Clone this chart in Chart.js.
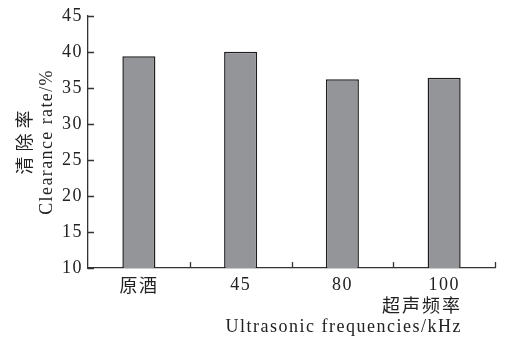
<!DOCTYPE html>
<html>
<head>
<meta charset="utf-8">
<script src="https://cdn.jsdelivr.net/npm/chart.js@4"></script>
<style>
  html, body { margin: 0; padding: 0; background: #fff; }
  #wrap { width: 505px; height: 341px; position: relative; }
</style>
</head>
<body>
<div id="wrap"><canvas id="c"></canvas></div>
<script>
// Clearance rate at each ultrasonic frequency
const categories = ['原酒', '45', '80', '100'];
const clearanceRate = [39.4, 40.0, 36.2, 36.4];
const yTicks = [10, 15, 20, 25, 30, 35, 40, 45];

const serif = '"Liberation Serif", "DejaVu Serif", serif';
const cjk = '"Noto Sans CJK SC", sans-serif';
const ink = '#222';

// Slightly tracked lettering for all text on the canvas
const tracking = {
  id: 'tracking',
  beforeDraw(chart) { chart.ctx.letterSpacing = '1.5px'; }
};

// Inward tick marks plus the two-language axis titles
const axisDecor = {
  id: 'axisDecor',
  afterDraw(chart) {
    const { ctx, chartArea: a, scales: { x, y } } = chart;
    ctx.save();
    ctx.strokeStyle = '#333';
    ctx.lineWidth = 1.3;
    ctx.beginPath();
    yTicks.forEach(v => {
      const py = Math.round(y.getPixelForValue(v)) + 0.5;
      ctx.moveTo(a.left, py);
      ctx.lineTo(a.left + 6, py);
    });
    const half = (x.getPixelForValue(1) - x.getPixelForValue(0)) / 2;
    categories.forEach((c, i) => {
      const px = Math.round(x.getPixelForValue(i) + half) + 0.5;
      ctx.moveTo(px, a.bottom);
      ctx.lineTo(px, a.bottom - 6);
    });
    ctx.stroke();

    ctx.fillStyle = ink;
    ctx.textBaseline = 'middle';
    // x-axis title, two lines
    ctx.textAlign = 'right';
    ctx.letterSpacing = '2px';
    ctx.font = '18px ' + cjk;
    ctx.fillText('超声频率', a.right - 33, a.bottom + 37);
    ctx.letterSpacing = '1.5px';
    ctx.font = '18px ' + serif;
    ctx.fillText('Ultrasonic frequencies/kHz', a.right - 33, a.bottom + 59);

    // y-axis title, two rotated columns
    const cy = (a.top + a.bottom) / 2;
    ctx.textAlign = 'center';
    ctx.save();
    ctx.translate(24, cy);
    ctx.rotate(-Math.PI / 2);
    ctx.letterSpacing = '5px';
    ctx.font = '18px ' + cjk;
    ctx.fillText('清除率', 2, 0);
    ctx.restore();
    ctx.save();
    ctx.translate(47, cy);
    ctx.rotate(-Math.PI / 2);
    ctx.letterSpacing = '1.4px';
    ctx.font = '18px ' + serif;
    ctx.fillText('Clearance rate/%', 0, 0);
    ctx.restore();
    ctx.restore();
  }
};

new Chart(document.getElementById('c'), {
  type: 'bar',
  data: {
    labels: categories,
    datasets: [{
      data: clearanceRate,
      backgroundColor: '#939598',
      borderColor: '#1e1e1e',
      borderWidth: 1.5,
      categoryPercentage: 1,
      barPercentage: 0.325
    }]
  },
  options: {
    responsive: true,
    maintainAspectRatio: false,
    animation: false,
    devicePixelRatio: 1,
    layout: { padding: { top: 13, right: 10, left: 0, bottom: 0 } },
    plugins: { legend: { display: false }, tooltip: { enabled: false } },
    scales: {
      x: {
        offset: true,
        grid: { display: false, drawTicks: false },
        border: { display: true, color: '#333', width: 1.3 },
        ticks: {
          color: ink,
          padding: 6,
          maxRotation: 0,
          font: ctx => ({ family: ctx.index === 0 ? cjk : serif, size: 18 })
        },
        afterFit(s) { s.height = 341 - 268; }
      },
      y: {
        min: 10,
        max: 45,
        afterBuildTicks(s) { s.ticks = yTicks.map(v => ({ value: v })); },
        grid: { display: false, drawTicks: false },
        border: { display: true, color: '#333', width: 1.3 },
        ticks: { color: ink, padding: 5, font: { family: serif, size: 18 } },
        afterFit(s) { s.width = 88; }
      }
    }
  },
  plugins: [tracking, axisDecor]
});
</script>
</body>
</html>
